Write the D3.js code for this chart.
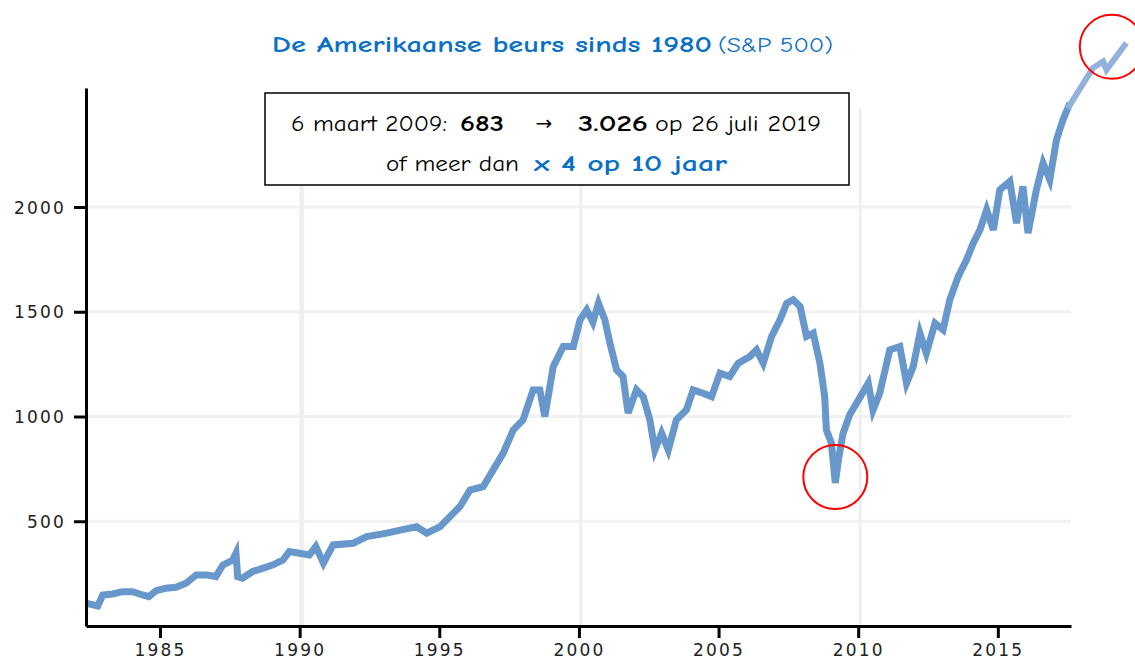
<!DOCTYPE html>
<html>
<head>
<meta charset="utf-8">
<script src="https://cdn.jsdelivr.net/npm/d3@7"></script>
<style>
	body { margin: 0; background: #fff; }
	.tick text { font-family: "DejaVu Sans", Verdana, sans-serif; font-size: 17px; letter-spacing: 2.2px; fill: #222; }
	.note { font-family: "Comic Sans MS", "Comic Neue", "Open Sans", sans-serif; }
</style>
</head>
<body>
<script>
// S&P 500 (decimal year, index level)
var years = [1982.38, 1982.77, 1982.95, 1983.30, 1983.66, 1984.02, 1984.38, 1984.60, 1984.86, 1985.20,
	1985.57, 1985.93, 1986.30, 1986.65, 1987.00, 1987.25, 1987.60, 1987.72, 1987.78, 1987.96,
	1988.30, 1988.67, 1989.03, 1989.40, 1989.63, 1989.99, 1990.35, 1990.58, 1990.85, 1991.20,
	1991.92, 1992.40, 1993.12, 1993.60, 1994.19, 1994.55, 1995.03, 1995.38, 1995.74, 1996.10,
	1996.57, 1996.93, 1997.29, 1997.65, 1998.00, 1998.36, 1998.60, 1998.78, 1999.08, 1999.44,
	1999.80, 2000.04, 2000.28, 2000.50, 2000.70, 2000.93, 2001.11, 2001.35, 2001.58, 2001.76,
	2002.06, 2002.30, 2002.54, 2002.72, 2002.96, 2003.20, 2003.49, 2003.85, 2004.09, 2004.45,
	2004.75, 2005.05, 2005.40, 2005.70, 2006.12, 2006.36, 2006.60, 2006.90, 2007.20, 2007.44,
	2007.67, 2007.92, 2008.15, 2008.39, 2008.63, 2008.80, 2008.86, 2009.04, 2009.18, 2009.30,
	2009.46, 2009.70, 2010.06, 2010.36, 2010.53, 2010.77, 2011.13, 2011.49, 2011.73, 2011.97,
	2012.21, 2012.44, 2012.75, 2013.04, 2013.28, 2013.58, 2013.88, 2014.12, 2014.36, 2014.60,
	2014.84, 2015.07, 2015.43, 2015.67, 2015.90, 2016.08, 2016.38, 2016.62, 2016.86, 2017.10,
	2017.33, 2017.58];
var values = [108, 96, 148, 153, 164, 164, 148, 140, 169, 180,
	185, 204, 244, 244, 236, 291, 315, 348, 236, 228,
	259, 275, 291, 315, 355, 347, 339, 379, 300, 387,
	395, 427, 443, 458, 474, 443, 474, 522, 570, 649,
	665, 745, 825, 936, 984, 1127, 1127, 1000, 1238, 1334,
	1334, 1461, 1509, 1450, 1541, 1461, 1350, 1222, 1191, 1016,
	1127, 1095, 984, 840, 920, 840, 984, 1032, 1127, 1111,
	1095, 1207, 1191, 1254, 1286, 1318, 1254, 1382, 1461, 1541,
	1557, 1525, 1382, 1398, 1254, 1095, 936, 873, 683, 800,
	920, 1010, 1090, 1159, 1030, 1111, 1318, 1334, 1159, 1238,
	1398, 1302, 1445, 1414, 1557, 1668, 1748, 1827, 1891, 1987,
	1891, 2082, 2122, 1923, 2098, 1875, 2082, 2209, 2130, 2321,
	2416, 2496];

// hand drawn continuation up to July 2019
var extYears = [2017.50, 2018.40, 2018.77, 2018.89, 2019.60];
var extValues = [2470, 2663, 2695, 2655, 2783];

// red circles
var circleYears = [2009.18, 2019.08];
var circleValues = [711, 2765];

var xTicks = [1985, 1990, 1995, 2000, 2005, 2010, 2015];
var xGridYears = [1990, 2000, 2010];
var yTicks = [500, 1000, 1500, 2000];

var width = 1135, height = 659;
var margin = {left: 86, right: 64, top: 88, bottom: 33};

var svg = d3.select("body").append("svg")
	.attr("width", width)
	.attr("height", height);

var xScale = d3.scaleLinear()
	.domain([1982.35, 2017.62])
	.range([margin.left, width - margin.right]);

var yScale = d3.scaleLinear()
	.domain([0, 2568])
	.range([height - margin.bottom, margin.top]);

// gridlines
svg.append("g").selectAll("line")
	.data(yTicks)
	.enter().append("line")
	.attr("x1", xScale.range()[0])
	.attr("x2", xScale.range()[1])
	.attr("y1", function(d) { return yScale(d); })
	.attr("y2", function(d) { return yScale(d); })
	.style("stroke", "#f1f1f1")
	.style("stroke-width", 3);

svg.append("g").selectAll("line")
	.data(xGridYears)
	.enter().append("line")
	.attr("x1", function(d) { return xScale(d) + 2; })
	.attr("x2", function(d) { return xScale(d) + 2; })
	.attr("y1", 108)
	.attr("y2", yScale(0))
	.style("stroke", "#efefef")
	.style("stroke-width", function(d) { return d == 1990 ? 5 : 3; });

// main series
var line = d3.line()
	.x(function(d) { return xScale(d[0]); })
	.y(function(d) { return yScale(d[1]); });

svg.append("path")
	.datum(d3.zip(years, values))
	.attr("d", line)
	.style("fill", "none")
	.style("stroke", "#6797cb")
	.style("stroke-width", 7)
	.style("stroke-linejoin", "miter");

svg.append("path")
	.datum(d3.zip(extYears, extValues))
	.attr("d", line)
	.style("fill", "none")
	.style("stroke", "#93b2db")
	.style("stroke-width", 6);

// axes
var yAxis = d3.axisLeft(yScale)
	.tickValues(yTicks)
	.tickSize(12)
	.tickSizeOuter(0)
	.tickPadding(8)
	.tickFormat(d3.format("d"));

var xAxis = d3.axisBottom(xScale)
	.tickValues(xTicks)
	.tickSize(12)
	.tickSizeOuter(0)
	.tickPadding(6)
	.tickFormat(d3.format("d"));

var gy = svg.append("g")
	.attr("class", "axis")
	.attr("transform", "translate(" + margin.left + ",0)")
	.call(yAxis);

var gx = svg.append("g")
	.attr("class", "axis")
	.attr("transform", "translate(0," + (height - margin.bottom) + ")")
	.call(xAxis);

svg.selectAll(".axis .domain").style("stroke", "#000").style("stroke-width", 3);
svg.selectAll(".axis .tick line").style("stroke", "#000").style("stroke-width", 3);
gy.selectAll(".tick text").attr("dy", "0.36em");

// circles
svg.append("g").selectAll("circle")
	.data(d3.zip(circleYears, circleValues))
	.enter().append("circle")
	.attr("cx", function(d) { return xScale(d[0]); })
	.attr("cy", function(d) { return yScale(d[1]); })
	.attr("r", 32)
	.style("fill", "none")
	.style("stroke", "#ff0000")
	.style("stroke-width", 2);

// title
var blue = "#0a70c4";
svg.append("text").attr("class", "note")
	.attr("x", 272).attr("y", 52)
	.attr("textLength", 440).attr("lengthAdjust", "spacingAndGlyphs")
	.style("font-size", "23px").style("font-weight", "bold").style("fill", blue)
	.text("De Amerikaanse beurs sinds 1980");
svg.append("text").attr("class", "note")
	.attr("x", 718).attr("y", 52)
	.attr("textLength", 115).attr("lengthAdjust", "spacingAndGlyphs")
	.style("font-size", "20px").style("fill", blue)
	.text("(S&P 500)");

// annotation box
svg.append("rect")
	.attr("x", 265).attr("y", 93)
	.attr("width", 584).attr("height", 92)
	.style("fill", "#fff")
	.style("stroke", "#000")
	.style("stroke-width", 1.5);

var parts = [
	{t: "6 maart 2009:", x: 291, w: 156, y: 131, b: false, c: "#000"},
	{t: "683", x: 460, w: 44, y: 131, b: true, c: "#000"},
	{t: "3.026", x: 578, w: 70, y: 131, b: true, c: "#000"},
	{t: "op 26 juli 2019", x: 655, w: 166, y: 131, b: false, c: "#000"},
	{t: "of meer dan", x: 386, w: 133, y: 171, b: false, c: "#000"},
	{t: "x 4 op 10 jaar", x: 534, w: 193, y: 171, b: true, c: blue}
];

svg.append("g").selectAll("text")
	.data(parts)
	.enter().append("text")
	.attr("class", "note")
	.attr("x", function(d) { return d.x; })
	.attr("y", function(d) { return d.y; })
	.attr("textLength", function(d) { return d.w; })
	.attr("lengthAdjust", "spacingAndGlyphs")
	.style("font-size", "22px")
	.style("font-weight", function(d) { return d.b ? "bold" : "normal"; })
	.style("fill", function(d) { return d.c; })
	.text(function(d) { return d.t; });

// the arrow between the two values
svg.append("text")
	.attr("x", 544).attr("y", 130)
	.attr("text-anchor", "middle")
	.style("font-family", "'DejaVu Sans', sans-serif")
	.style("font-size", "20px")
	.style("fill", "#000")
	.text("\u2192");
</script>
</body>
</html>
